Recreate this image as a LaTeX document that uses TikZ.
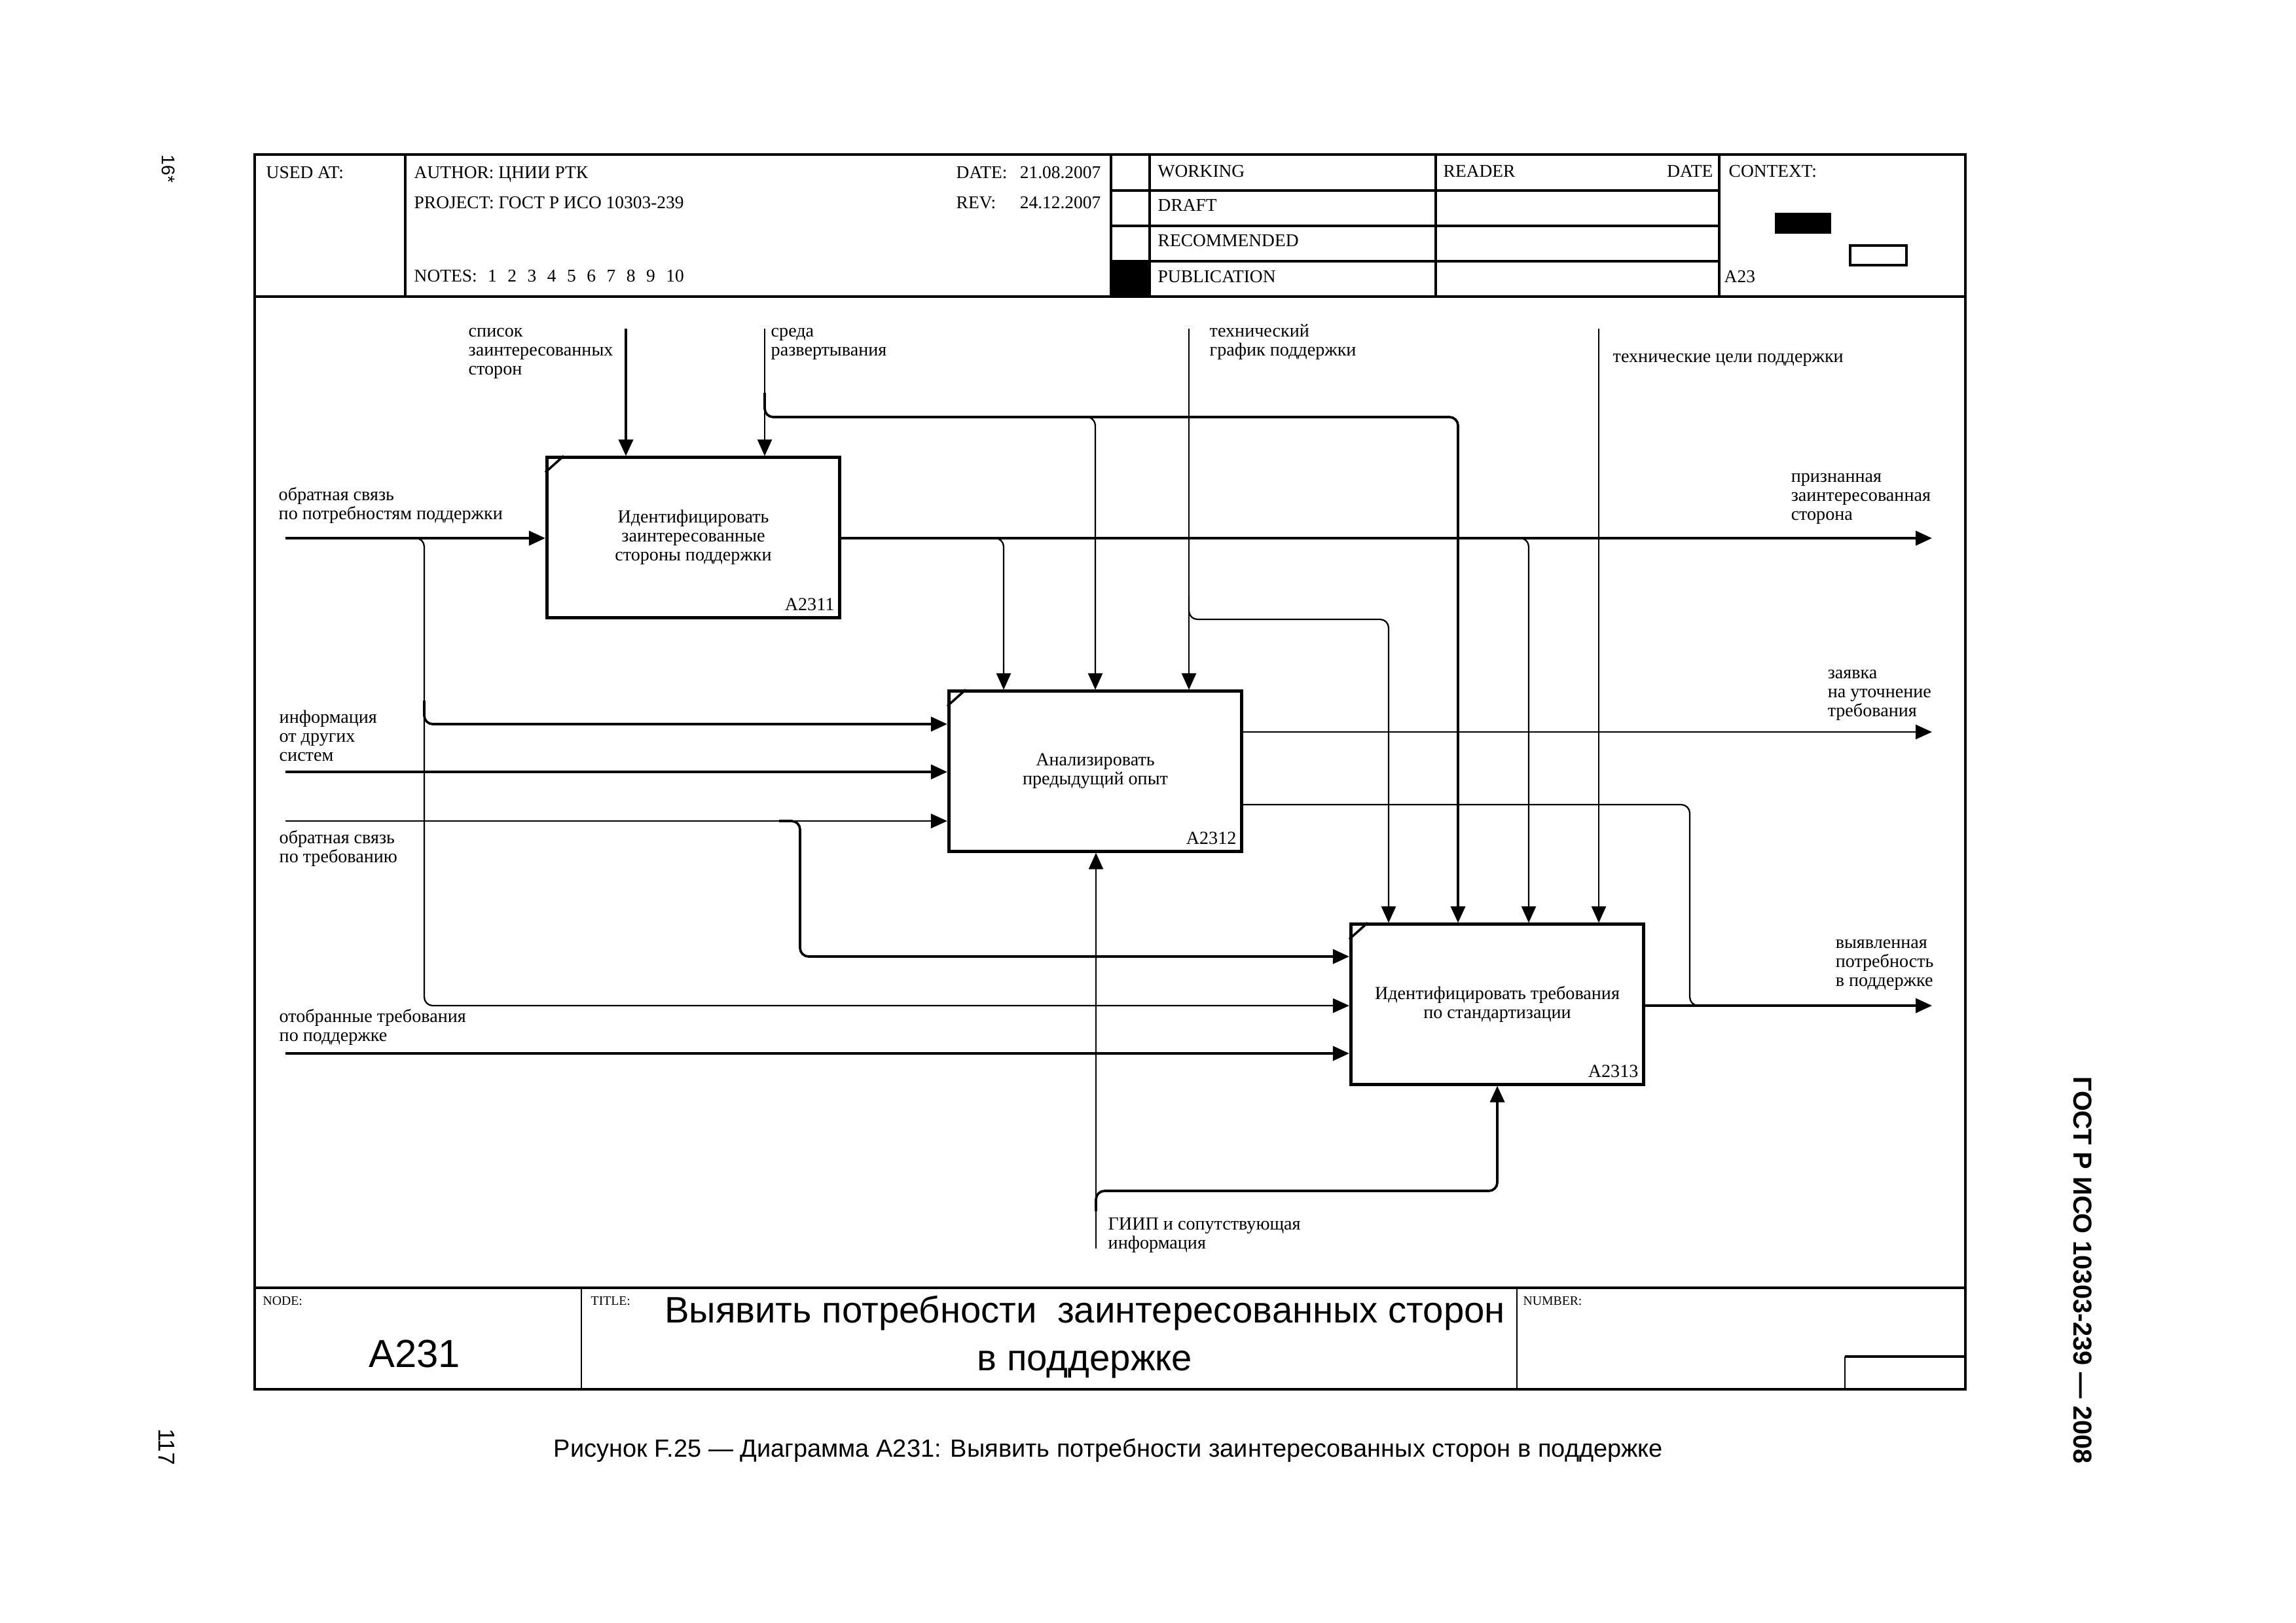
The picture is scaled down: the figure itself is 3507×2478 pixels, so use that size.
\documentclass[tikz,border=0pt]{standalone}
\usepackage{fontspec}
\setmainfont{Liberation Serif}
\newfontfamily\sansf{Liberation Sans}
\usetikzlibrary{arrows.meta}
\newcommand\lblfont{\fontsize{8}{8.3}\selectfont}
\newcommand\hdrfont{\fontsize{7.8}{9}\selectfont}
\newcommand\tinyhdr{\fontsize{5.6}{6}\selectfont}
\newcommand\ns{\hspace{4.7pt}}
\begin{document}
\begin{tikzpicture}[x=0.01cm,y=-0.01cm,
  frameline/.style={line width=1.2pt},
  midline/.style={line width=0.95pt},
  hairline/.style={line width=0.65pt},
  thinl/.style={line width=0.65pt},
  thickl/.style={line width=1.05pt},
  arr/.style={-{Triangle[length=0.25cm,width=0.22cm]}},
  procbox/.style={draw,line width=1.4pt,minimum width=4.47cm,minimum height=2.44cm,inner sep=0pt,align=center,font=\lblfont},
  idl/.style={inner sep=0pt,anchor=base east,font=\lblfont},
  lbl/.style={inner sep=0pt,align=left,anchor=north west,font=\lblfont},
  hdr/.style={inner sep=0pt,anchor=base west,font=\hdrfont},
  hdre/.style={inner sep=0pt,anchor=base east,font=\hdrfont},
  tiny/.style={inner sep=0pt,anchor=base west,font=\tinyhdr},
  rcorner/.style={rounded corners=0.13cm}
]
\useasboundingbox (0,0) rectangle (3507,2478);

% ---------- frame ----------
\draw[frameline] (389,236) rectangle (3002,2122);
\draw[frameline] (389,453) -- (3002,453);
\draw[midline] (619,236) -- (619,453);
\draw[midline] (1697,236) -- (1697,453);
\draw[midline] (1756,236) -- (1756,453);
\draw[midline] (2193,236) -- (2193,453);
\draw[midline] (2626,236) -- (2626,453);
\draw[midline] (1697,291) -- (2626,291);
\draw[midline] (1697,345) -- (2626,345);
\draw[midline] (1697,399) -- (2626,399);
\fill (1697,399) rectangle (1756,453);
\fill (2711,325) rectangle (2797,357);
\draw[midline] (2826,375) rectangle (2912,405);

\draw[frameline] (389,1967) -- (3002,1967);
\draw[hairline] (888,1967) -- (888,2122);
\draw[hairline] (2317,1967) -- (2317,2122);
\draw[midline] (2818,2072) -- (3002,2072);
\draw[hairline] (2818,2072) -- (2818,2122);

% ---------- header texts ----------
\node[hdr] (usedat) at (406,272) {USED AT:};
\node[hdr] (author) at (632,272) {AUTHOR: ЦНИИ РТК};
\node[hdr] (datek) at (1460,272) {DATE:};
\node[hdre] (datev) at (1682,272) {21.08.2007};
\node[hdr] (project) at (632,318) {PROJECT: ГОСТ Р ИСО 10303-239};
\node[hdr] (revk) at (1460,318) {REV:};
\node[hdre] (revv) at (1682,318) {24.12.2007};
\node[hdr] (notes) at (632,430) {NOTES:\ns1\ns2\ns3\ns4\ns5\ns6\ns7\ns8\ns9\ns10};
\node[hdr] (working) at (1768,270) {WORKING};
\node[hdr] (draft) at (1768,322) {DRAFT};
\node[hdr] (recom) at (1768,376) {RECOMMENDED};
\node[hdr] (publ) at (1768,431) {PUBLICATION};
\node[hdr] (reader) at (2204,270) {READER};
\node[hdre] (rdate) at (2617,270) {DATE};
\node[hdr] (context) at (2640,270) {CONTEXT:};
\node[hdr] (ctxnode) at (2633,431) {A23};

% ---------- bottom texts ----------
\node[tiny] (nodek) at (401,1993) {NODE:};
\node[tiny] (titlek) at (902,1993) {TITLE:};
\node[tiny] (numberk) at (2326,1993) {NUMBER:};
\node[inner sep=0pt,font=\sansf\fontsize{17}{20}\selectfont] (nodev) at (633,2068) {A231};
\node[inner sep=0pt,align=center,font=\sansf\fontsize{16}{20.8}\selectfont] (titlev) at (1657,2042) {Выявить потребности~ заинтересованных сторон\\в поддержке};
\node[inner sep=0pt,font=\sansf\fontsize{10.8}{12}\selectfont] (caption) at (1693,2215) {Рисунок F.25 — Диаграмма A231: Выявить потребности заинтересованных сторон в поддержке};
\node[inner sep=0pt,rotate=-90,font=\sansf\fontsize{8}{9}\selectfont] (pg1) at (257,258) {16*};
\node[inner sep=0pt,rotate=-90,font=\sansf\fontsize{10}{12}\selectfont] (pg2) at (255,2210) {117};
\node[inner sep=0pt,rotate=-90,font=\sansf\bfseries\fontsize{11.3}{13}\selectfont] (gost) at (3181,1940) {ГОСТ Р ИСО 10303-239 — 2008};

% ---------- boxes ----------
\node[procbox] (b1) at (1059,821) {Идентифицировать\\заинтересованные\\стороны поддержки};
\node[procbox] (b2) at (1673,1178) {Анализировать\\предыдущий опыт};
\node[procbox] (b3) at (2287,1534) {Идентифицировать требования\\по стандартизации};
\node[idl] (id1) at ([xshift=-0.1cm,yshift=0.13cm]b1.south east) {A2311};
\node[idl] (id2) at ([xshift=-0.1cm,yshift=0.13cm]b2.south east) {A2312};
\node[idl] (id3) at ([xshift=-0.1cm,yshift=0.13cm]b3.south east) {A2313};
\foreach \b in {b1,b2,b3}{
  \draw[line width=1pt] ([xshift=0.28cm]\b.north west) -- ([yshift=-0.25cm]\b.north west);
}

% ---------- inputs ----------
\coordinate (i1) at (436,822);
\coordinate (i2) at (436,1179);
\coordinate (i3) at (436,1254);
\coordinate (i4) at (436,1609);
\draw[thickl,arr] (i1) -- (i1 -| b1.west);
\draw[thickl,arr] (i2) -- (i2 -| b2.west);
\draw[thinl,arr] (i3) -- (i3 -| b2.west);
\draw[thickl,arr] (i4) -- (i4 -| b3.west);
% branches of input 1
\coordinate (s1) at (600,822);
\coordinate (v1a) at (648,1106);
\coordinate (v1b) at (648,1536);
\coordinate (s1b) at (648,1070);
\draw[thinl,rcorner,arr] (s1) -| (v1b) -- (v1b -| b3.west);
\draw[thickl,rcorner,arr] (s1b) |- (v1a -| b2.west);
% branch of input 3
\coordinate (s3) at (1190,1254);
\coordinate (v3) at (1222,1461);
\draw[thickl,rcorner,arr] (s3) -| (v3) -- (v3 -| b3.west);

% ---------- controls ----------
\coordinate (c1) at (956,502);
\coordinate (c2) at (1168,502);
\coordinate (c3) at (1816,502);
\coordinate (c4) at (2442,502);
\draw[thickl,arr] (c1) -- (c1 |- b1.north);
\draw[thinl,arr] (c2) -- (c2 |- b1.north);
\draw[thinl,arr] (c3) -- (c3 |- b2.north);
\draw[thinl,arr] (c4) -- (c4 |- b3.north);
% branch of c2
\coordinate (s2) at (1168,600);
\coordinate (h2) at (2227,637);
\coordinate (s2b) at (1640,637);
\draw[thickl,rcorner,arr] (s2) |- (h2) -- (h2 |- b3.north);
\draw[thinl,rcorner,arr] (s2b) -| (b2.north);
% branch of c3
\coordinate (s3c) at (1816,910);
\coordinate (h3) at (2121,946);
\draw[thinl,rcorner,arr] (s3c) |- (h3) -- (h3 |- b3.north);

% ---------- outputs ----------
\coordinate (o1) at (2951,822);
\draw[thickl,arr] (o1 -| b1.east) -- (o1);
\coordinate (s4) at (1500,822);
\coordinate (x4) at (1533,0);
\draw[thinl,rcorner,arr] (s4) -| (x4 |- b2.north);
\coordinate (s5) at (2300,822);
\coordinate (x5) at (2335,0);
\draw[thinl,rcorner,arr] (s5) -| (x5 |- b3.north);

\coordinate (o2) at (2951,1118);
\draw[thinl,arr] (o2 -| b2.east) -- (o2);
\coordinate (o3) at (2951,1536);
\coordinate (y7) at (0,1229);
\coordinate (x6) at (2581,0);
\coordinate (m6) at (2615,1536);
\draw[thinl,rcorner] (y7 -| b2.east) -| (x6 |- o3) -- (m6);
\draw[thickl,arr] (o3 -| b3.east) -- (o3);

% ---------- mechanisms ----------
\coordinate (m1) at (1674,1907);
\draw[thinl,arr] (m1) -- (m1 |- b2.south);
\coordinate (s7) at (1674,1850);
\coordinate (h7) at (2287,1819);
\draw[thickl,rcorner,arr] (s7) |- (h7) -- (b3.south);

% ---------- labels ----------
\node[lbl] (t1) at (715,493) {\strut список\\заинтересованных\\сторон};
\node[lbl] (t2) at (1177,493) {\strut среда\\развертывания};
\node[lbl] (t3) at (1847,493) {\strut технический\\график поддержки};
\node[lbl] (t4) at (2463,532) {\strut технические цели поддержки};
\node[lbl] (t5) at (425,743) {\strut обратная связь\\по потребностям поддержки};
\node[lbl] (t6) at (2735,715) {\strut признанная\\заинтересованная\\сторона};
\node[lbl] (t7) at (426,1083) {\strut информация\\от других\\систем};
\node[lbl] (t8) at (426,1267) {\strut обратная связь\\по требованию};
\node[lbl] (t9) at (426,1540) {\strut отобранные требования\\по поддержке};
\node[lbl] (t10) at (2791,1015) {\strut заявка\\на уточнение\\требования};
\node[lbl] (t11) at (2803,1427) {\strut выявленная\\потребность\\в поддержке};
\node[lbl] (t12) at (1692,1857) {\strut ГИИП и сопутствующая\\информация};
\end{tikzpicture}
\end{document}
